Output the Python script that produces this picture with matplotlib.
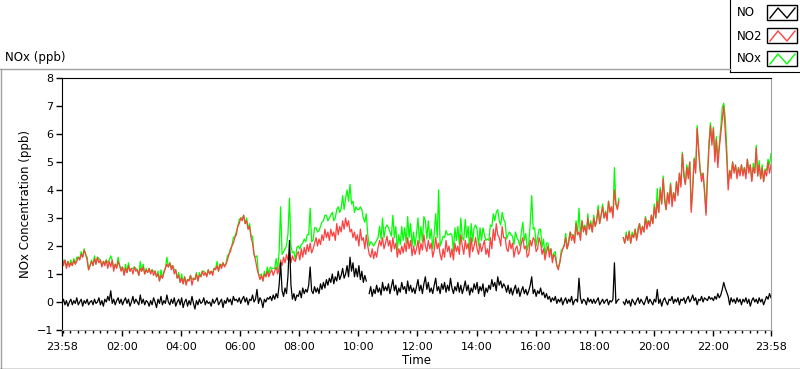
import numpy as np
import matplotlib
matplotlib.use('Agg')
import matplotlib.pyplot as plt
from matplotlib.lines import Line2D
from matplotlib.patches import Rectangle

plt.rcParams['font.family'] = 'DejaVu Sans'

nan = np.nan

# 3-minute samples starting at 23:58 (one row = one hour)
step_min = 3
tick_minutes = [0, 122, 242, 362, 482, 602, 722, 842, 962, 1082, 1202, 1322, 1440]
tick_labels = ['23:58', '02:00', '04:00', '06:00', '08:00', '10:00', '12:00',
               '14:00', '16:00', '18:00', '20:00', '22:00', '23:58']

no = [
    -0.05, 0.1, -0.1, 0.05, -0.15, 0.0, 0.1, -0.1, 0.05, -0.05, 0.15, -0.1, 0.0, 0.1, -0.15, 0.05, -0.05, 0.1, -0.1, 0.0,
    0.05, -0.1, 0.1, -0.05, 0.0, 0.15, -0.1, 0.05, -0.15, 0.1, 0.0, 0.2, 0.05, 0.4, -0.05, 0.1, -0.1, 0.05, 0.15, -0.05,
    0.1, -0.1, 0.05, 0.15, -0.05, 0.1, -0.15, 0.0, 0.2, -0.05, 0.1, 0.0, -0.1, 0.25, -0.05, 0.1, -0.1, 0.05, 0.0, -0.15,
    0.05, -0.1, 0.15, 0.0, -0.2, 0.1, -0.05, 0.2, -0.1, 0.05, -0.05, 0.25, 0.0, -0.1, 0.1, -0.05, 0.15, -0.15, 0.0, 0.1,
    -0.1, 0.15, -0.2, 0.0, 0.1, -0.15, 0.05, -0.1, 0.2, -0.05, -0.25, 0.05, -0.1, 0.1, -0.05, 0.0, 0.15, -0.1, 0.05, -0.05,
    0.0, -0.15, 0.1, -0.05, 0.05, 0.15, -0.1, 0.0, 0.1, -0.2, 0.05, -0.05, 0.15, 0.0, 0.1, -0.1, 0.2, 0.05, 0.1, 0.0,
    0.15, -0.05, 0.1, 0.2, 0.0, 0.15, -0.1, 0.1, 0.05, 0.25, 0.0, 0.1, 0.45, -0.05, 0.15, 0.05, -0.2, 0.1, 0.0, 0.15,
    0.1, 0.2, 0.05, 0.25, 0.1, 0.3, 0.15, 0.6, 1.4, 0.4, 0.2, 0.5, 0.3, 0.95, 2.2, 0.6, 0.1, 0.3, 0.05, 0.25,
    0.2, 0.4, 0.15, 0.5, 0.3, 0.45, 0.35, 0.6, 1.25, 0.4, 0.3, 0.55, 0.35, 0.5, 0.3, 0.65, 0.45, 0.7, 0.5, 0.8,
    0.6, 0.85, 0.7, 1.0, 0.65, 0.9, 0.75, 1.1, 0.8, 0.95, 1.2, 0.85, 1.0, 1.3, 0.9, 1.6, 1.1, 1.4, 0.9, 1.2,
    0.9, 1.3, 0.8, 1.1, 0.7, 0.95, 0.75, nan, 0.3, 0.55, 0.2, 0.45, 0.3, 0.6, 0.35, 0.5, 0.25, 0.7, 0.4, 0.55,
    0.4, 0.65, 0.3, 0.55, 0.8, 0.4, 0.6, 0.25, 0.5, 0.35, 0.7, 0.45, 0.55, 0.3, 0.75, 0.4, 0.6, 0.35, 0.5, 0.3,
    0.55, 0.8, 0.4, 0.6, 0.3, 0.65, 0.9, 0.45, 0.7, 0.35, 0.5, 0.3, 0.6, 0.85, 0.4, 0.55, 0.3, 0.65, 0.45, 0.7,
    0.35, 0.6, 0.4, 0.85, 0.5, 0.3, 0.55, 0.4, 0.7, 0.35, 0.6, 0.3, 0.5, 0.75, 0.4, 0.6, 0.25, 0.5, 0.35, 0.65,
    0.45, 0.7, 0.3, 0.55, 0.4, 0.65, 0.2, 0.5, 0.35, 0.6, 0.45, 0.8, 0.55, 0.7, 0.4, 0.9, 0.6, 0.75, 0.5, 0.65,
    0.55, 0.35, 0.6, 0.3, 0.5, 0.25, 0.45, 0.6, 0.3, 0.5, 0.2, 0.4, 0.55, 0.3, 0.45, 0.25, 0.4, 0.6, 0.9, 0.3,
    0.45, 0.2, 0.4, 0.3, 0.5, 0.25, 0.35, 0.15, 0.3, 0.1, 0.2, 0.0, 0.15, 0.05, 0.2, -0.05, 0.1, 0.0, 0.15, -0.1,
    0.05, 0.15, -0.05, 0.1, 0.0, 0.2, -0.1, 0.05, 0.1, 0.0, 0.85, 0.15, -0.05, 0.1, 0.05, -0.1, 0.15, 0.0, 0.1, -0.05,
    0.1, -0.05, 0.05, 0.15, -0.1, 0.0, 0.1, -0.05, 0.05, 0.1, -0.1, 0.05, 0.0, 0.1, 1.4, -0.05, 0.05, 0.1, nan, nan,
    0.0, -0.1, 0.1, -0.05, 0.05, -0.15, 0.1, 0.0, -0.1, 0.05, 0.15, -0.05, 0.1, 0.0, -0.1, 0.05, 0.2, -0.05, 0.1, 0.0,
    -0.1, 0.1, 0.0, 0.45, -0.05, 0.1, -0.15, 0.05, 0.15, 0.0, -0.1, 0.1, 0.05, 0.2, -0.05, 0.1, 0.0, 0.15, -0.1, 0.1,
    0.05, 0.15, -0.05, 0.1, 0.2, 0.0, 0.1, 0.25, 0.05, 0.15, -0.1, 0.1, 0.05, 0.2, 0.0, 0.15, 0.1, 0.05, 0.2, 0.1,
    0.15, 0.05, 0.2, 0.1, 0.3, 0.15, 0.25, 0.45, 0.7, 0.5, 0.35, 0.2, -0.1, 0.15, 0.0, 0.1, -0.05, 0.15, 0.0, 0.1,
    -0.1, 0.1, 0.0, 0.15, -0.05, 0.1, -0.15, 0.05, 0.15, 0.0, 0.1, -0.05, 0.15, 0.0, 0.1, -0.1, 0.05, 0.2, 0.1, 0.3,
    0.15]

no2 = [
    1.6, 1.3, 1.5, 1.2, 1.45, 1.25, 1.4, 1.3, 1.5, 1.35, 1.45, 1.6, 1.5, 1.7, 1.6, 1.85, 1.7, 1.5, 1.15, 1.3,
    1.45, 1.3, 1.55, 1.35, 1.6, 1.4, 1.5, 1.25, 1.45, 1.3, 1.5, 1.2, 1.45, 1.25, 1.5, 1.1, 1.35, 1.2, 1.45, 1.3,
    1.1, 1.25, 0.95, 1.2, 1.05, 1.3, 1.1, 1.2, 1.0, 1.25, 1.1, 1.15, 0.95, 1.2, 1.1, 1.25, 1.0, 1.15, 1.05, 1.2,
    1.0, 1.15, 0.95, 1.1, 0.9, 1.0, 0.75, 0.95, 0.85, 1.05, 1.2, 1.35, 1.25, 1.4, 1.15, 1.3, 1.0, 1.15, 0.85, 0.95,
    0.7, 0.85, 0.65, 0.9, 0.6, 0.8, 0.75, 0.95, 0.6, 0.85, 0.8, 1.0, 0.75, 0.95, 0.9, 1.1, 0.95, 1.05, 0.9, 1.15,
    1.0, 1.1, 0.95, 1.2, 1.15, 1.3, 1.1, 1.35, 1.2, 1.4, 1.25, 1.35, 1.5, 1.7, 1.8, 2.0, 2.1, 2.3, 2.4, 2.7,
    2.8, 3.0, 2.9, 3.1, 2.8, 2.9, 2.6, 2.7, 2.3, 2.1, 1.7, 1.5, 1.2, 1.0, 0.8, 0.95, 0.75, 1.0, 0.9, 1.1,
    0.9, 1.05, 1.15, 0.95, 1.1, 1.25, 1.0, 1.2, 1.5, 1.3, 1.6, 1.4, 1.7, 1.5, 1.8, 1.4, 1.65, 1.5, 1.45, 1.7,
    1.8, 1.5, 1.9, 1.6, 1.95, 1.7, 2.05, 1.8, 2.1, 1.75, 1.9, 2.1, 2.3, 2.0, 2.25, 2.05, 2.4, 2.2, 2.6, 2.3,
    2.5, 2.2, 2.6, 2.35, 2.5, 2.2, 2.8, 2.4, 2.7, 2.5, 2.9, 2.6, 3.0, 2.7, 2.9, 2.5, 2.6, 2.3, 2.5, 2.2,
    2.4, 2.0, 2.6, 2.2, 2.3, 1.9, 2.4, 2.0, 1.7, 1.6, 1.9, 1.55, 1.8, 1.6, 1.95, 2.2, 2.0, 2.3, 1.9, 2.1,
    2.35, 2.0, 2.2, 1.8, 2.3, 1.9, 2.1, 1.6, 1.9, 1.7, 2.0, 1.75, 2.1, 1.8, 2.3, 1.9, 2.2, 1.65, 2.0, 1.7,
    1.9, 2.2, 1.7, 2.1, 1.85, 2.4, 2.0, 1.8, 2.2, 1.9, 2.1, 1.6, 1.85, 2.3, 1.9, 2.1, 1.7, 1.5, 1.9, 1.6,
    2.2, 1.8, 2.0, 1.6, 1.9, 1.5, 2.1, 1.8, 2.0, 1.7, 2.4, 2.0, 1.7, 2.2, 1.9, 2.1, 1.6, 2.3, 1.8, 2.0,
    2.3, 1.9, 1.7, 2.1, 1.8, 2.0, 2.2, 1.7, 1.9, 1.6, 2.3, 1.9, 2.6, 2.2, 2.8, 2.4, 2.3, 2.0, 2.7, 2.3,
    2.3, 1.9, 1.8, 2.2, 1.9, 2.1, 1.6, 1.9, 2.0, 1.7, 1.8, 2.1, 2.3, 1.9, 2.0, 1.6, 1.7, 2.2, 2.0, 2.3,
    2.2, 1.8, 1.9, 2.3, 2.1, 1.7, 1.9, 1.5, 1.8, 2.0, 1.6, 1.9, 1.4, 1.7, 1.6, 1.3, 1.15, 1.4, 1.7, 1.9,
    2.0, 2.3, 1.9, 2.1, 2.5, 2.2, 2.4, 2.1, 2.8, 2.4, 2.5, 2.2, 2.9, 2.5, 2.7, 2.4, 3.0, 2.6, 2.8, 2.5,
    3.0, 2.7, 2.9, 3.3, 2.8, 3.1, 3.4, 3.0, 3.2, 2.9, 3.6, 3.2, 3.4, 3.0, 4.0, 3.5, 3.3, 3.6, nan, nan,
    2.3, 2.1, 2.4, 2.2, 2.5, 2.1, 2.4, 2.3, 2.6, 2.2, 2.5, 2.8, 2.4, 2.7, 2.5, 3.0, 2.6, 2.9, 2.7, 3.1,
    2.8, 3.4, 3.0, 3.6, 3.2, 4.0, 3.5, 4.4, 3.6, 3.3, 3.9, 3.5, 4.2, 3.4, 3.9, 3.6, 4.3, 3.8, 4.6, 4.1,
    5.3, 4.5, 4.2, 4.8, 4.4, 5.0, 3.2, 4.0, 5.1, 4.6, 6.2, 5.4, 4.7, 4.3, 4.6, 3.9, 3.1, 4.5, 5.5, 6.3,
    5.6, 6.2, 5.0, 5.8, 4.8, 5.5, 6.0, 6.5, 7.0, 6.1, 5.2, 4.0, 4.7, 4.4, 5.0, 4.6, 4.9, 4.4, 4.8, 4.5,
    4.9, 4.5, 4.8, 4.4, 5.1, 4.6, 4.9, 4.3, 4.8, 4.6, 5.5, 4.5, 4.9, 4.4, 4.8, 4.3, 4.7, 4.5, 5.0, 4.6,
    4.9]

nox = [
    1.6, 1.4, 1.5, 1.25, 1.45, 1.3, 1.5, 1.3, 1.55, 1.35, 1.6, 1.6, 1.55, 1.8, 1.6, 1.9, 1.7, 1.6, 1.15, 1.3,
    1.5, 1.3, 1.65, 1.35, 1.6, 1.55, 1.5, 1.3, 1.45, 1.4, 1.5, 1.4, 1.5, 1.65, 1.5, 1.2, 1.35, 1.25, 1.6, 1.3,
    1.2, 1.25, 1.0, 1.35, 1.05, 1.4, 1.1, 1.2, 1.2, 1.25, 1.2, 1.15, 0.95, 1.45, 1.1, 1.35, 1.0, 1.2, 1.05, 1.2,
    1.05, 1.15, 1.1, 1.1, 0.9, 1.1, 0.75, 1.15, 0.85, 1.1, 1.2, 1.6, 1.25, 1.4, 1.25, 1.3, 1.15, 1.15, 0.85, 1.05,
    0.7, 1.0, 0.65, 0.9, 0.7, 0.8, 0.8, 0.95, 0.8, 0.85, 0.8, 1.05, 0.75, 1.05, 0.9, 1.1, 1.1, 1.05, 0.95, 1.15,
    1.0, 1.1, 1.05, 1.2, 1.2, 1.45, 1.1, 1.35, 1.3, 1.4, 1.3, 1.35, 1.65, 1.7, 1.9, 2.0, 2.3, 2.35, 2.5, 2.7,
    2.95, 3.0, 3.0, 3.1, 2.8, 3.0, 2.6, 2.8, 2.35, 2.35, 1.7, 1.6, 1.65, 1.0, 0.95, 1.0, 0.75, 1.1, 0.9, 1.25,
    1.0, 1.25, 1.2, 1.2, 1.2, 1.55, 1.15, 1.8, 3.4, 1.7, 1.8, 1.9, 2.0, 2.45, 3.7, 2.0, 1.75, 1.8, 1.5, 1.95,
    2.0, 1.9, 2.05, 2.1, 2.25, 2.15, 2.4, 2.4, 3.35, 2.15, 2.2, 2.65, 2.65, 2.5, 2.55, 2.7, 2.85, 2.9, 3.1, 3.1,
    2.9, 3.0, 3.1, 3.2, 2.9, 3.0, 3.3, 3.4, 3.2, 3.35, 3.8, 3.3, 3.7, 4.0, 3.6, 4.2, 3.5, 3.6, 3.2, 3.4,
    3.3, 3.3, 3.4, 3.3, 3.0, 2.85, 3.15, 2.4, 2.0, 2.15, 2.1, 2.0, 2.1, 2.2, 2.3, 2.7, 2.25, 3.0, 2.3, 2.65,
    2.75, 2.65, 2.5, 2.35, 3.1, 2.3, 2.7, 1.85, 2.4, 2.05, 2.7, 2.2, 2.65, 2.1, 3.05, 2.3, 2.8, 2.0, 2.5, 2.0,
    2.45, 3.0, 2.1, 2.7, 2.15, 3.05, 2.9, 2.25, 2.9, 2.25, 2.6, 1.9, 2.45, 3.15, 2.3, 4.0, 2.0, 2.15, 2.35, 2.3,
    2.55, 2.4, 2.4, 2.45, 2.4, 1.8, 2.65, 2.2, 2.7, 2.05, 3.0, 2.3, 2.2, 2.95, 2.3, 2.7, 1.85, 2.8, 2.15, 2.65,
    2.75, 2.6, 2.0, 2.65, 2.2, 2.65, 2.4, 2.2, 2.25, 2.2, 2.75, 2.7, 3.15, 2.9, 3.2, 3.3, 2.9, 2.75, 3.2, 2.95,
    2.85, 2.25, 2.4, 2.5, 2.4, 2.35, 2.05, 2.5, 2.3, 2.2, 2.0, 2.5, 2.85, 2.2, 2.45, 1.85, 2.1, 2.8, 3.8, 2.6,
    2.65, 2.0, 2.3, 2.6, 2.6, 1.95, 2.25, 1.65, 2.1, 2.1, 1.8, 1.9, 1.55, 1.75, 1.8, 1.3, 1.25, 1.4, 1.85, 1.9,
    2.05, 2.45, 1.9, 2.2, 2.5, 2.4, 2.4, 2.15, 2.9, 2.4, 3.35, 2.35, 2.9, 2.6, 2.75, 2.4, 3.15, 2.6, 2.9, 2.5,
    3.1, 2.7, 2.95, 3.45, 2.8, 3.1, 3.5, 3.0, 3.25, 3.0, 3.6, 3.25, 3.4, 3.1, 4.8, 3.5, 3.35, 3.7, nan, nan,
    2.3, 2.1, 2.5, 2.2, 2.55, 2.1, 2.5, 2.3, 2.6, 2.25, 2.65, 2.8, 2.5, 2.7, 2.5, 3.05, 2.8, 2.9, 2.8, 3.1,
    2.8, 3.5, 3.0, 4.05, 3.2, 4.1, 3.5, 4.5, 3.75, 3.3, 3.9, 3.6, 4.25, 3.6, 3.9, 3.7, 4.3, 3.95, 4.6, 4.2,
    5.35, 4.65, 4.2, 4.9, 4.6, 5.0, 3.3, 4.25, 5.15, 4.75, 6.3, 5.5, 4.75, 4.5, 4.6, 4.05, 3.2, 4.55, 5.7, 6.4,
    5.75, 6.25, 5.2, 5.9, 5.1, 5.65, 6.25, 6.95, 7.1, 6.6, 5.55, 4.2, 4.7, 4.55, 5.0, 4.7, 4.85, 4.55, 4.8, 4.6,
    4.9, 4.6, 4.8, 4.55, 5.1, 4.7, 4.9, 4.35, 4.95, 4.6, 5.6, 4.5, 5.05, 4.4, 4.9, 4.3, 4.75, 4.7, 5.1, 4.9,
    5.3]

t = np.arange(len(no)) * step_min

W, H = 800, 369
fig = plt.figure(figsize=(W / 100, H / 100), dpi=100)
fig.patch.set_facecolor('white')

# outer frame of the chart panel
fig.add_artist(Line2D([0, 730 / W], [1 - 69 / H] * 2, transform=fig.transFigure, color='#a0a0a0', lw=1))
fig.add_artist(Line2D([0.5 / W] * 2, [0, 1 - 69 / H], transform=fig.transFigure, color='#a0a0a0', lw=1))
fig.add_artist(Line2D([0, 1], [0.5 / H] * 2, transform=fig.transFigure, color='#404040', lw=1))

ax = fig.add_axes([62 / W, 1 - 330 / H, (771 - 62) / W, (330 - 78) / H])

red = '#ff4040'
green = '#00ff00'
ax.plot(t, nox, color=green, lw=0.9)
ax.plot(t, no2, color=red, lw=0.9)
ax.plot(t, no, color='black', lw=0.9)

ax.set_xlim(0, 1440)
ax.set_ylim(-1, 8)
ax.set_yticks(range(-1, 9))
ax.set_xticks(tick_minutes)
ax.set_xticklabels(tick_labels)
ax.set_xticks(np.arange(2, 1440, 15), minor=True)

for s in ['top', 'left']:
    ax.spines[s].set_color('black')
for s in ['bottom', 'right']:
    ax.spines[s].set_color('#a0a0a0')

ax.tick_params(axis='both', which='major', labelsize=8, direction='out', length=4, width=1, color='black')
ax.tick_params(axis='x', which='major', pad=5)
ax.tick_params(axis='x', which='minor', length=2.5, width=1, color='black')
ax.tick_params(axis='y', pad=2)

ax.set_xlabel('Time', fontsize=8.5, labelpad=1)
ax.set_ylabel('NOx Concentration (ppb)', fontsize=8.5, labelpad=4)

fig.text(5 / W, 1 - 58 / H, 'NOx (ppb)', fontsize=8.5, va='center', ha='left')

# legend panel in top-right corner
lg = fig.add_axes([730 / W, 1 - 72 / H, 70 / W, 72 / H])
lg.set_xlim(730, 800)
lg.set_ylim(72, 0)
lg.set_xticks([])
lg.set_yticks([])
lg.set_facecolor('white')
for s in ['top', 'right']:
    lg.spines[s].set_visible(False)
for s in ['left', 'bottom']:
    lg.spines[s].set_color('black')

names = ['NO', 'NO2', 'NOx']
colors = ['black', red, green]
for i, (name, c) in enumerate(zip(names, colors)):
    yc = 13 + i * 23
    lg.text(737, yc, name, fontsize=8.5, va='center', ha='left')
    lg.add_patch(Rectangle((767, yc - 8), 30, 15, fill=False, edgecolor='black', lw=1))
    lg.plot([770, 778, 787, 795], [yc + 5, yc - 5, yc + 5, yc - 5], color=c, lw=1)

fig.savefig('out.png', dpi=100)
